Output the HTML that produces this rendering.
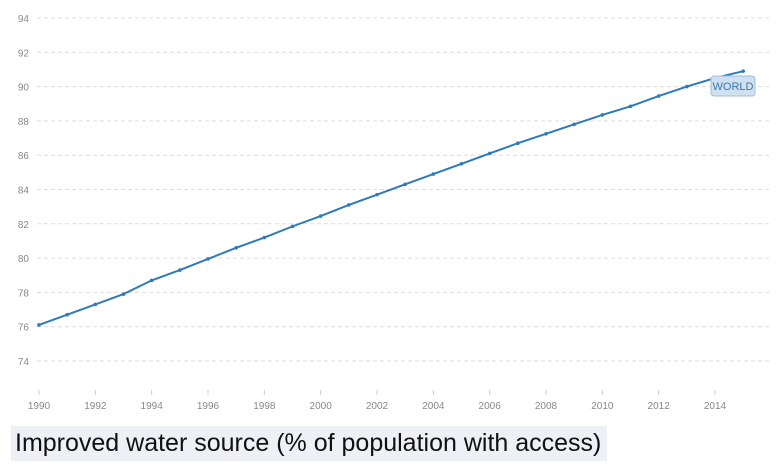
<!DOCTYPE html>
<html><head><meta charset="utf-8"><style>
body{margin:0;background:#fff;width:777px;height:476px;overflow:hidden;font-family:"Liberation Sans",sans-serif}
#title{position:absolute;left:11px;top:426px;width:596px;height:35px;background:#eef0f5;font-size:25px;color:#111;line-height:35px;padding-left:4px;box-sizing:border-box}
</style></head><body>
<svg id="chart" width="777" height="420" style="position:absolute;left:0;top:0"></svg>
<div id="title">Improved water source (% of population with access)</div>
<script>
const years=[1990,1991,1992,1993,1994,1995,1996,1997,1998,1999,2000,2001,2002,2003,2004,2005,2006,2007,2008,2009,2010,2011,2012,2013,2014,2015];
const values=[76.1,76.7,77.3,77.9,78.7,79.3,79.95,80.6,81.2,81.85,82.45,83.1,83.7,84.3,84.9,85.5,86.1,86.7,87.25,87.8,88.35,88.85,89.45,90.0,90.5,90.9];
const yTicks=[74,76,78,80,82,84,86,88,90,92,94];
const xTicks=[1990,1992,1994,1996,1998,2000,2002,2004,2006,2008,2010,2012,2014];
const seriesName="WORLD";
const NS="http://www.w3.org/2000/svg";
const svg=document.getElementById('chart');
const x=v=>39+(v-1990)*(676/24);
const y=v=>361-(v-74)*(343/20);
function mk(t,a,p){const e=document.createElementNS(NS,t);for(const k in a)e.setAttribute(k,a[k]);(p||svg).appendChild(e);return e;}
yTicks.forEach(t=>{
 const g=mk('line',{x1:37,x2:770,y1:y(t),y2:y(t),stroke:'#ddd','stroke-dasharray':'4,3'});
 
 
 const l=mk('text',{x:29,y:y(t)+4,'text-anchor':'end','font-size':10,fill:'#888'});
 l.textContent=t;
 
 
});
xTicks.forEach(t=>{
 const k=mk('line',{x1:x(t),x2:x(t),y1:390,y2:395,stroke:'#ccc'});
 
 
 const l=mk('text',{x:x(t),y:409,'text-anchor':'middle','font-size':10,fill:'#888'});
 l.textContent=t;
 
 
});
const path=mk('polyline',{points:years.map((yr,i)=>x(yr)+','+y(values[i])).join(' '),fill:'none',stroke:'#2f7ab8','stroke-width':2});


years.forEach((yr,i)=>{
 const c=mk('circle',{cx:x(yr),cy:y(values[i]),r:1.8,fill:'#2f7ab8'});
 
 
});
const lx=711,ly=76;
const r=mk('rect',{x:lx,y:ly,width:44,height:20,rx:3,fill:'#cfe0f0',stroke:'#9cc0e0'});


const lt=mk('text',{x:lx+22,y:ly+14,'text-anchor':'middle','font-size':11,fill:'#3a78b0'});
lt.textContent=seriesName;


</script>
</body></html>
